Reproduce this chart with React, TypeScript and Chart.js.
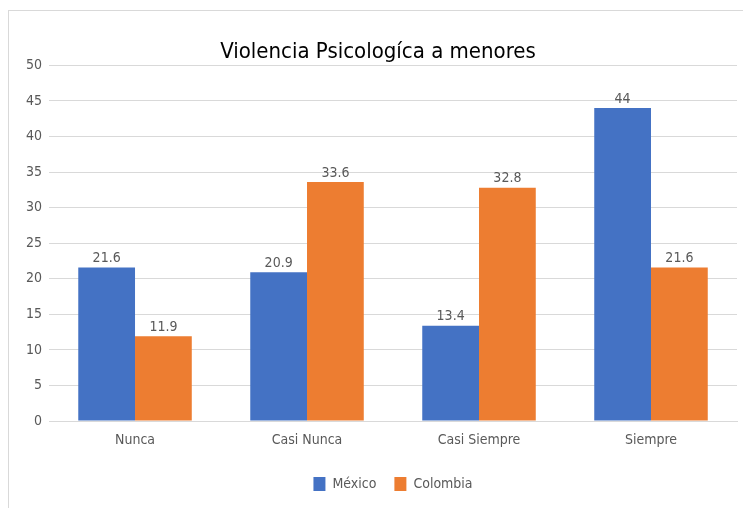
import React, { useEffect, useRef } from "react";
import { Chart, registerables } from "chart.js";

Chart.register(...registerables);

const categories = ["Nunca", "Casi Nunca", "Casi Siempre", "Siempre"];
const mexico = [21.6, 20.9, 13.4, 44];
const colombia = [11.9, 33.6, 32.8, 21.6];
const seriesNames = ["México", "Colombia"];
const titleText = "Violencia Psicologíca a menores";

const FONT = "'Liberation Sans Narrow', 'DejaVu Sans Condensed', 'Open Sans', sans-serif";

const valueLabels = {
  id: "valueLabels",
  afterDatasetsDraw(chart: any) {
    const ctx = chart.ctx;
    ctx.save();
    ctx.font = `14px ${FONT}`;
    ctx.fillStyle = "#595959";
    ctx.textAlign = "center";
    ctx.textBaseline = "bottom";
    chart.data.datasets.forEach((ds: any, i: number) => {
      const meta = chart.getDatasetMeta(i);
      meta.data.forEach((bar: any, j: number) => {
        ctx.fillText(String(ds.data[j]), bar.x, bar.y - 2);
      });
    });
    ctx.restore();
  },
};

export default function App() {
  const ref = useRef<HTMLCanvasElement>(null);
  useEffect(() => {
    const chart = new Chart(ref.current!, {
      type: "bar",
      data: {
        labels: categories,
        datasets: [
          { label: seriesNames[0], data: mexico, backgroundColor: "#4472C4", borderWidth: 0 },
          { label: seriesNames[1], data: colombia, backgroundColor: "#ED7D31", borderWidth: 0 },
        ],
      },
      options: {
        animation: false,
        responsive: false,
        maintainAspectRatio: false,
        layout: { padding: { left: 10, right: 6, top: 28, bottom: 7 } },
        datasets: { bar: { categoryPercentage: 0.66, barPercentage: 1 } },
        plugins: {
          title: {
            display: true,
            text: titleText,
            color: "#000000",
            font: { family: FONT, size: 22, weight: "normal" },
            padding: { top: 0, bottom: 0 },
          },
          legend: {
            position: "bottom",
            fullSize: false,
            labels: {
              color: "#595959",
              font: { family: FONT, size: 14 },
              boxWidth: 12,
              boxHeight: 14,
              padding: 18,
            },
          },
          tooltip: { enabled: false },
        },
        scales: {
          x: {
            grid: { display: false },
            border: { color: "#d9d9d9" },
            ticks: { color: "#595959", font: { family: FONT, size: 14 }, padding: 3 },
            title: { display: true, text: "", font: { size: 1 }, padding: { top: 3, bottom: 3 } },
          },
          y: {
            min: 0,
            max: 50,
            ticks: { stepSize: 5, color: "#595959", font: { family: FONT, size: 14 }, padding: 7 },
            grid: { color: "#d9d9d9", drawTicks: false },
            border: { display: false },
          },
        },
      },
      plugins: [valueLabels],
    });
    return () => chart.destroy();
  }, []);
  return (
    <div
      style={{
        position: "fixed",
        left: 8,
        top: 10,
        width: 735,
        height: 498,
        boxSizing: "border-box",
        borderLeft: "1px solid #d9d9d9",
        borderTop: "1px solid #d9d9d9",
        fontFamily: FONT,
      }}
    >
      <canvas ref={ref} width={734} height={497} style={{ display: "block" }} />
    </div>
  );
}
